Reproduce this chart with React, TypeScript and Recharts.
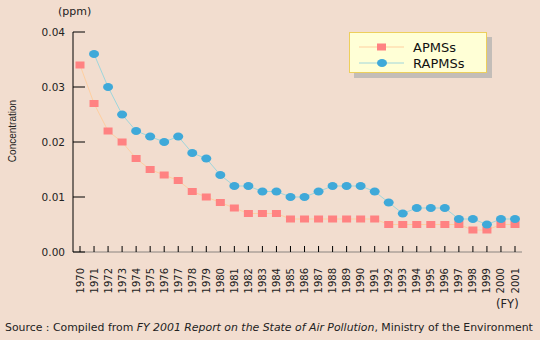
import { Line, LineChart, XAxis, YAxis } from "recharts";

const years = [
  "1970", "1971", "1972", "1973", "1974", "1975", "1976", "1977", "1978", "1979",
  "1980", "1981", "1982", "1983", "1984", "1985", "1986", "1987", "1988", "1989",
  "1990", "1991", "1992", "1993", "1994", "1995", "1996", "1997", "1998", "1999",
  "2000", "2001",
];
const apms = [
  0.034, 0.027, 0.022, 0.020, 0.017, 0.015, 0.014, 0.013, 0.011, 0.010,
  0.009, 0.008, 0.007, 0.007, 0.007, 0.006, 0.006, 0.006, 0.006, 0.006,
  0.006, 0.006, 0.005, 0.005, 0.005, 0.005, 0.005, 0.005, 0.004, 0.004,
  0.005, 0.005,
];
const rapms = [
  null, 0.036, 0.030, 0.025, 0.022, 0.021, 0.020, 0.021, 0.018, 0.017,
  0.014, 0.012, 0.012, 0.011, 0.011, 0.010, 0.010, 0.011, 0.012, 0.012,
  0.012, 0.011, 0.009, 0.007, 0.008, 0.008, 0.008, 0.006, 0.006, 0.005,
  0.006, 0.006,
];
const yTicks = [0, 0.01, 0.02, 0.03, 0.04];

const data = years.map((y, i) => ({ year: y, APMSs: apms[i], RAPMSs: rapms[i] }));

const FONT = "'DejaVu Sans', sans-serif";
const NARROW = "'Liberation Sans', Arial, sans-serif";
const BG = "#F2DDCF";
const SQ = "#FF8282";
const SQ_LINE = "#FFCFA0";
const DOT = "#3FA9D9";
const DOT_LINE = "#9FD6DC";

function Square(props: any) {
  const { cx, cy } = props;
  if (cx == null || cy == null) return null;
  return <rect x={cx - 4.5} y={cy - 3.5} width={9} height={7} fill={SQ} />;
}

function Dot(props: any) {
  const { cx, cy } = props;
  if (cx == null || cy == null) return null;
  return <ellipse cx={cx} cy={cy} rx={5} ry={4} fill={DOT} />;
}

// rotated year labels, read bottom-up like the original
function YearTick(props: any) {
  const { x, y, payload } = props;
  return (
    <text
      x={x}
      y={y}
      transform={`rotate(-90 ${x} ${y})`}
      textAnchor="end"
      dominantBaseline="central"
      fontSize={10}
      fontFamily={FONT}
      fill="#222"
    >
      {payload.value}
    </text>
  );
}

function LegendBox() {
  const row = (label: string, line: string, marker: any) => (
    <div style={{ display: "flex", alignItems: "center", height: 16 }}>
      <svg width={54} height={12} style={{ marginLeft: 9 }}>
        <line x1={0} y1={6} x2={45} y2={6} stroke={line} strokeWidth={1} />
        {marker}
      </svg>
      <span style={{ fontSize: 13, fontFamily: FONT, color: "#111" }}>{label}</span>
    </div>
  );
  return (
    <div
      style={{
        position: "absolute",
        left: 349,
        top: 32,
        width: 138,
        height: 41,
        background: "#FFFFD6",
        border: "1px solid #EDCF5C",
        boxShadow: "5px 5px 0 #C3BDB8",
        paddingTop: 6,
        boxSizing: "border-box",
      }}
    >
      {row("APMSs", SQ_LINE, <rect x={18} y={2.5} width={9} height={7} fill={SQ} />)}
      {row("RAPMSs", DOT_LINE, <ellipse cx={23} cy={6} rx={5} ry={4} fill={DOT} />)}
    </div>
  );
}

export default function App() {
  return (
    <div style={{ position: "fixed", left: 0, top: 0, width: 540, height: 340, background: BG, fontFamily: FONT }}>
      <LineChart width={540} height={340} data={data} margin={{ top: 32, right: 18, left: 0, bottom: 0 }}>
        <XAxis
          dataKey="year"
          height={88}
          interval={0}
          padding={{ left: 7, right: 7 }}
          tickSize={-6}
          tickMargin={22}
          axisLine={{ stroke: "#8a8480" }}
          tickLine={{ stroke: "#000" }}
          tick={<YearTick />}
        />
        <YAxis
          width={73}
          domain={[0, 0.04]}
          ticks={yTicks}
          tickSize={-12}
          tickMargin={20}
          axisLine={{ stroke: "#000" }}
          tickLine={{ stroke: "#000" }}
          tickFormatter={(v: number) => v.toFixed(2)}
          tick={{ fill: "#222", fontSize: 10.5, fontFamily: FONT }}
        />
        <Line dataKey="APMSs" stroke={SQ_LINE} strokeWidth={1} dot={<Square />} isAnimationActive={false} />
        <Line dataKey="RAPMSs" stroke={DOT_LINE} strokeWidth={1} dot={<Dot />} isAnimationActive={false} />
      </LineChart>
      <div
        style={{
          position: "absolute",
          left: 12,
          top: 131,
          transform: "translate(-50%, -50%) rotate(-90deg)",
          fontSize: 10,
          fontFamily: NARROW,
          color: "#222",
          whiteSpace: "nowrap",
        }}
      >
        Concentration
      </div>
      <div style={{ position: "absolute", left: 58, top: 5, fontSize: 11, color: "#222" }}>(ppm)</div>
      <div style={{ position: "absolute", left: 496, top: 297, fontSize: 11.5, color: "#222" }}>(FY)</div>
      <div
        style={{ position: "absolute", left: 5, top: 321, fontSize: 10.9, color: "#222", whiteSpace: "nowrap" }}
      >
        Source : Compiled from <i>FY 2001 Report on the State of Air Pollution</i>, Ministry of the Environment
      </div>
      <LegendBox />
    </div>
  );
}
